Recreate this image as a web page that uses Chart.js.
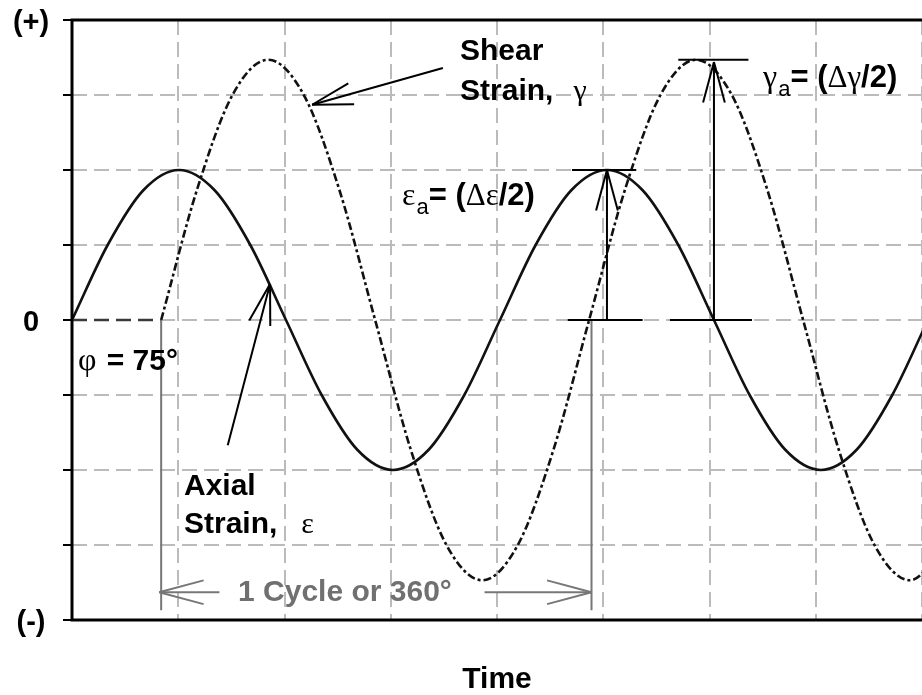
<!DOCTYPE html>
<html>
<head>
<meta charset="utf-8">
<script src="https://cdn.jsdelivr.net/npm/chart.js@4.4.0/dist/chart.umd.min.js"></script>
<style>
  html, body { margin: 0; padding: 0; background: #fff; }
</style>
</head>
<body>
<canvas id="myCanvas" width="922" height="695"></canvas>
<script>
// phase angle (degrees) and strain (grid units)
const axialDeg = [0, 30, 60, 90, 120, 150, 180, 210, 240, 270, 300, 330, 360, 390, 420, 450, 480, 510, 540, 570, 600, 630, 660, 690, 720];
const axialVal = [0, 1, 1.73, 2, 1.73, 1, 0, -1, -1.73, -2, -1.73, -1, 0, 1, 1.73, 2, 1.73, 1, 0, -1, -1.73, -2, -1.73, -1, 0];

const shearDeg = [75, 105, 135, 165, 195, 225, 255, 285, 315, 345, 375, 405, 435, 465, 495, 525, 555, 585, 615, 645, 675, 705, 735];
const shearVal = [0, 1.73, 3, 3.47, 3, 1.73, 0, -1.73, -3, -3.47, -3, -1.73, 0, 1.73, 3, 3.47, 3, 1.73, 0, -1.73, -3, -3.47, -3];

const yTicks = [-4, -3, -2, -1, 0, 1, 2, 3, 4];
const yTickLabels = ["(-)", "", "", "", "0", "", "", "", "(+)"];
const xTitle = "Time";

const BOLD = (s) => "bold " + s + "px 'Liberation Sans', Arial, sans-serif";
const SANS = (s) => s + "px 'Liberation Sans', Arial, sans-serif";
const GREEK = (s) => s + "px 'Liberation Serif', 'Times New Roman', serif";

// draws pieces of text one after another on the same baseline
function runs(ctx, x, y, parts) {
  let cx = x;
  parts.forEach((p) => {
    ctx.font = p.f;
    ctx.fillText(p.t, cx, y + (p.dy || 0));
    cx += ctx.measureText(p.t).width + (p.gap || 0);
  });
}

function line(ctx, x1, y1, x2, y2) {
  ctx.beginPath();
  ctx.moveTo(x1, y1);
  ctx.lineTo(x2, y2);
  ctx.stroke();
}

// open arrow head at (x2,y2)
function arrow(ctx, x1, y1, x2, y2, len, head) {
  if (head !== false) line(ctx, x1, y1, x2, y2);
  const ang = Math.atan2(y1 - y2, x1 - x2);
  const w = 15 * Math.PI / 180;
  line(ctx, x2, y2, x2 + len * Math.cos(ang + w), y2 + len * Math.sin(ang + w));
  line(ctx, x2, y2, x2 + len * Math.cos(ang - w), y2 + len * Math.sin(ang - w));
}

const notes = {
  id: "notes",
  afterDraw(chart) {
    const { ctx, chartArea: a, scales } = chart;
    const X = (v) => scales.x.getPixelForValue(v);
    const Y = (v) => scales.y.getPixelForValue(v);
    ctx.save();
    ctx.lineCap = "butt";

    // zero line before the shear curve starts
    ctx.strokeStyle = "#3a3a3a";
    ctx.lineWidth = 2.5;
    ctx.setLineDash([15, 7]);
    line(ctx, X(0), Y(0), X(75), Y(0));
    ctx.setLineDash([]);

    // phase / cycle markers (gray)
    ctx.strokeStyle = "#777";
    ctx.lineWidth = 2;
    line(ctx, X(75), Y(0), X(75), Y(-3.87));
    line(ctx, X(437), Y(0), X(437), Y(-3.87));
    const cy = Y(-3.63);
    line(ctx, X(75), cy, X(124), cy);
    line(ctx, X(347), cy, X(437), cy);
    arrow(ctx, X(124), cy, X(75) - 2, cy, 46, false);
    arrow(ctx, X(347), cy, X(437), cy, 46, false);
    ctx.fillStyle = "#707070";
    ctx.font = BOLD(30);
    ctx.textAlign = "center";
    ctx.textBaseline = "middle";
    ctx.fillText("1 Cycle or 360°", X(229.6), cy);

    // black arrows and amplitude markers
    ctx.strokeStyle = "#000";
    ctx.lineWidth = 2;
    arrow(ctx, X(312), Y(3.36), X(202), Y(2.87), 42);
    arrow(ctx, X(131), Y(-1.67), X(166.6), Y(0.48), 42);
    arrow(ctx, X(450), Y(0), X(450), Y(2), 42);
    arrow(ctx, X(540), Y(0), X(540), Y(3.44), 42);
    line(ctx, X(420.6), Y(2), X(474.4), Y(2));
    line(ctx, X(417), Y(0), X(480), Y(0));
    line(ctx, X(510), Y(3.47), X(569), Y(3.47));
    line(ctx, X(503), Y(0), X(572), Y(0));

    // labels
    ctx.fillStyle = "#000";
    ctx.textAlign = "left";
    ctx.textBaseline = "alphabetic";
    runs(ctx, X(326.4), Y(3.47), [{ t: "Shear", f: BOLD(30) }]);
    runs(ctx, X(326.4), Y(2.93), [{ t: "Strain,", f: BOLD(30), gap: 20 }, { t: "γ", f: GREEK(30) }]);
    runs(ctx, X(94.2), Y(-2.33), [{ t: "Axial", f: BOLD(30) }]);
    runs(ctx, X(94.2), Y(-2.84), [{ t: "Strain,", f: BOLD(30), gap: 24 }, { t: "ε", f: GREEK(30) }]);
    runs(ctx, X(5), Y(-0.67), [{ t: "φ", f: GREEK(32), gap: 2 }, { t: " = 75°", f: BOLD(30) }]);
    runs(ctx, X(277.6), Y(1.53), [
      { t: "ε", f: GREEK(32), gap: 1 },
      { t: "a", f: SANS(22), dy: 9 },
      { t: "= (", f: BOLD(31) },
      { t: "Δε", f: GREEK(31) },
      { t: "/2)", f: BOLD(31) }
    ]);
    runs(ctx, X(581.3), Y(3.11), [
      { t: "γ", f: GREEK(32), gap: 1 },
      { t: "a", f: SANS(22), dy: 9 },
      { t: "= (", f: BOLD(31) },
      { t: "Δγ", f: GREEK(31) },
      { t: "/2)", f: BOLD(31) }
    ]);

    // frame and y ticks
    ctx.lineWidth = 3;
    ctx.beginPath();
    ctx.moveTo(a.right, a.top);
    ctx.lineTo(a.left, a.top);
    ctx.lineTo(a.left, a.bottom);
    ctx.lineTo(a.right, a.bottom);
    ctx.stroke();
    ctx.lineWidth = 2;
    yTicks.forEach((t, i) => {
      line(ctx, a.left - 9, Y(t), a.left, Y(t));
      if (yTickLabels[i]) {
        ctx.font = BOLD(29);
        ctx.textAlign = "center";
        ctx.textBaseline = "middle";
        ctx.fillText(yTickLabels[i], a.left - 41, Y(t) + 3);
      }
    });
    ctx.font = BOLD(30);
    ctx.textAlign = "center";
    ctx.textBaseline = "alphabetic";
    ctx.fillText(xTitle, (a.left + a.right) / 2, 688);
    ctx.restore();
  }
};

const ctx = document.getElementById("myCanvas");
new Chart(ctx, {
  type: "line",
  data: {
    datasets: [
      {
        label: "Axial Strain",
        data: axialDeg.map((d, i) => ({ x: d, y: axialVal[i] })),
        borderColor: "#111",
        borderWidth: 2.6,
        pointRadius: 0,
        cubicInterpolationMode: "monotone"
      },
      {
        label: "Shear Strain",
        data: shearDeg.map((d, i) => ({ x: d, y: shearVal[i] })),
        borderColor: "#111",
        borderWidth: 2.6,
        borderDash: [8, 3, 3, 3],
        pointRadius: 0,
        cubicInterpolationMode: "monotone"
      }
    ]
  },
  options: {
    responsive: false,
    animation: false,
    events: [],
    layout: { padding: { left: 72, top: 20, right: 0, bottom: 75 } },
    plugins: { legend: { display: false }, tooltip: { enabled: false } },
    scales: {
      x: {
        type: "linear",
        min: 0,
        max: 715,
        ticks: { display: false, stepSize: 90, includeBounds: false },
        grid: { color: "#bbb", lineWidth: 2, drawTicks: false },
        border: { display: false, dash: [15, 7] }
      },
      y: {
        min: -4,
        max: 4,
        ticks: { display: false, stepSize: 1 },
        grid: { color: "#bbb", lineWidth: 2, drawTicks: false },
        border: { display: false, dash: [15, 7] }
      }
    }
  },
  plugins: [notes]
});
</script>
</body>
</html>
